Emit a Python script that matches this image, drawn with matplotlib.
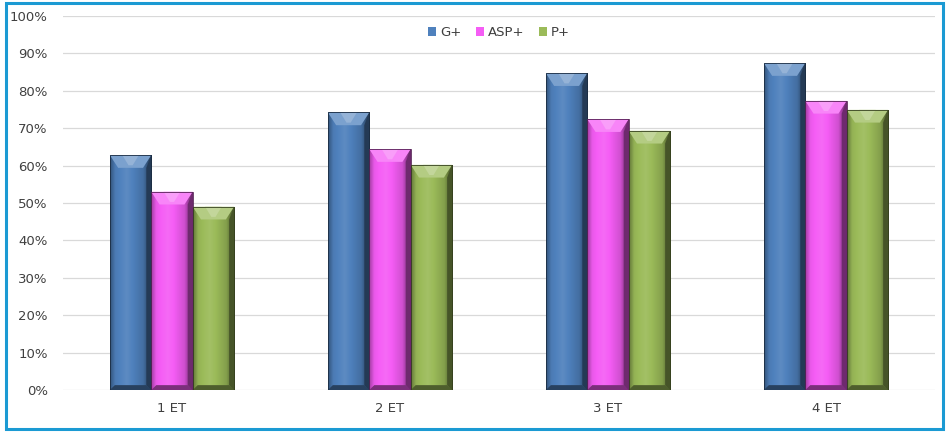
import matplotlib.pyplot as plt
import matplotlib.colors as mcolors
from matplotlib.patches import Polygon, Rectangle
import numpy as np

categories = ['1 ET', '2 ET', '3 ET', '4 ET']
series_names = ['G+', 'ASP+', 'P+']
g_plus = [62.8, 74.2, 84.7, 87.4]
asp_plus = [53.0, 64.4, 72.4, 77.3]
p_plus = [49.0, 60.2, 69.3, 74.9]
colors = ['#4f81bd', '#f55df5', '#9bbb59']


def shade(c, f):
    rgb = np.array(mcolors.to_rgb(c))
    if f > 0:
        rgb = rgb + (1 - rgb) * f
    else:
        rgb = rgb * (1 + f)
    return tuple(np.clip(rgb, 0, 1))


def bevel(ax, rect, color):
    x, y0 = rect.get_x(), rect.get_y()
    w, h = rect.get_width(), rect.get_height()
    bx = w * 0.2
    by = 3.4
    bb = 1.3
    # horizontal gradient body
    grad = np.linspace(0, 1, 80)
    prof = np.interp(grad, [0, 0.12, 0.4, 0.8, 1.0], [-0.35, -0.05, 0.08, -0.15, -0.6])
    cols = np.array([shade(color, p) for p in prof])
    img = ax.imshow(cols[np.newaxis, :, :], extent=(x, x + w, y0, y0 + h),
                    aspect='auto', zorder=2, interpolation='bilinear')
    img.set_clip_path(rect)
    top = y0 + h
    # top bevel
    ax.add_patch(Polygon([(x, top), (x + w, top), (x + w - bx, top - by), (x + bx, top - by)],
                         closed=True, fc=shade(color, 0.25), ec='none', zorder=3))
    ax.add_patch(Polygon([(x + w * 0.3, top), (x + w * 0.7, top), (x + w * 0.55, top - by * 0.8), (x + w * 0.45, top - by * 0.8)],
                         closed=True, fc=shade(color, 0.4), ec='none', zorder=3))
    # right bevel
    ax.add_patch(Polygon([(x + w, top), (x + w - bx * 0.6, top - by), (x + w - bx * 0.6, y0 + bb), (x + w, y0)],
                         closed=True, fc=shade(color, -0.55), ec='none', zorder=3))
    # bottom bevel
    ax.add_patch(Polygon([(x, y0), (x + w, y0), (x + w - bx * 0.6, y0 + bb), (x + bx * 0.6, y0 + bb)],
                         closed=True, fc=shade(color, -0.5), ec='none', zorder=3))
    ax.add_patch(Rectangle((x, y0), w, h, fc='none', ec=shade(color, -0.65), lw=0.6, zorder=4))


fig = plt.figure(figsize=(9.49, 4.34), dpi=100)
ax = fig.add_axes([63 / 949, 44 / 434, 872 / 949, 374 / 434])

xs = np.arange(len(categories))
bw = 0.19
all_vals = [g_plus, asp_plus, p_plus]
for i, (vals, col, name) in enumerate(zip(all_vals, colors, series_names)):
    bars = ax.bar(xs + (i - 1) * bw, vals, bw, color=col, label=name, zorder=2)
    for b in bars:
        bevel(ax, b, col)

ax.set_xlim(-0.5, 3.5)
ax.set_ylim(0, 100)
ax.set_yticks(np.arange(0, 101, 10))
ax.set_yticklabels(['%d%%' % v for v in range(0, 101, 10)])
ax.set_xticks(xs)
ax.set_xticklabels(categories)
ax.yaxis.grid(True, color='#d9d9d9', lw=0.9, zorder=0)
ax.set_axisbelow(True)
for s in ax.spines.values():
    s.set_visible(False)
ax.tick_params(axis='both', length=0, colors='#404040', labelsize=9.5)
ax.tick_params(axis='y', pad=11)
ax.tick_params(axis='x', pad=9)

leg = ax.legend(loc='upper center', bbox_to_anchor=(0.5, 1.005), ncol=3, frameon=False,
                handlelength=0.6, handleheight=0.6, handletextpad=0.3, columnspacing=1.1,
                fontsize=9.5, labelcolor='#404040')

fig.add_artist(Rectangle((6 / 949, 5 / 434), 937 / 949, 426 / 434, transform=fig.transFigure,
                         fill=False, ec='#1b9ad3', lw=2.2))

fig.savefig('out.png', dpi=100)
